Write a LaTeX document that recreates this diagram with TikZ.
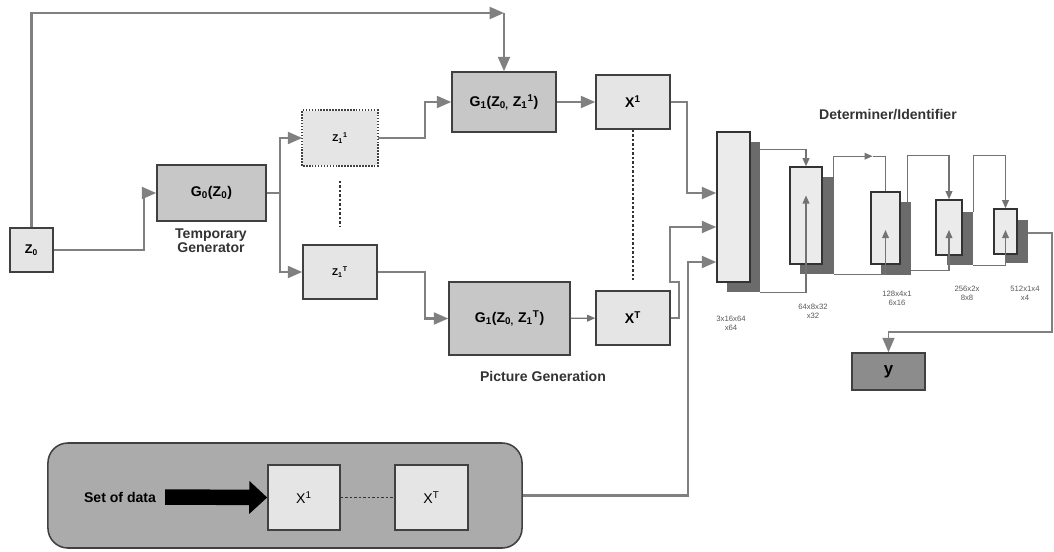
\documentclass[tikz,border=0pt]{standalone}
\usepackage{fontspec}
\setmainfont{Liberation Sans}
\usetikzlibrary{arrows.meta, calc, positioning}

\tikzset{
    lightbox/.style={draw=black!75, line width=1.1pt, fill=black!10, inner sep=0pt, font=\bfseries},
    darkbox/.style={lightbox, fill=black!22},
    layer/.style={draw=black!80, line width=1.1pt, fill=black!8, inner sep=0pt},
    shade/.style={draw=none, fill=black!58, inner sep=0pt},
    link/.style={draw=black!50, line width=1.5pt},
    conn/.style={link, -{Triangle[length=3.6mm,width=3mm]}},
    sconn/.style={draw=black!55, line width=0.8pt, -{Triangle[length=2mm,width=1.7mm]}},
    dots/.style={draw=black!80, line width=1.6pt, dash pattern=on 1.6pt off 1.6pt},
    lbl/.style={font=\bfseries, text=black!80, align=center},
    dims/.style={font=\fontsize{5.5}{6.5}\selectfont, text=black!65, align=center}
}

\begin{document}
\begin{tikzpicture}[x=0.025cm, y=-0.025cm]
    \useasboundingbox (0,0) rectangle (1054,552);

    % generator part
    \node[lightbox, minimum width=1.075cm, minimum height=1.1cm, font=\bfseries\small] (Z0) at (31.5,250) {Z\textsubscript{0}};
    \node[darkbox, minimum width=2.725cm, minimum height=1.4cm] (G0) at (211.5,193) {G\textsubscript{0}(Z\textsubscript{0})};
    \node[lbl] at (211,241) {Temporary\\[-2pt]Generator};

    \node[lightbox, draw=none, minimum width=1.85cm, minimum height=1.35cm, font=\bfseries\scriptsize] (Z1a) at (340,138) {Z\textsubscript{1}\textsuperscript{1}};
    \draw[black!75, line width=1.1pt, densely dotted] (Z1a.south west) rectangle (Z1a.north east);
    \node[lightbox, minimum width=1.85cm, minimum height=1.35cm, font=\bfseries\scriptsize] (Z1b) at (340,272) {Z\textsubscript{1}\textsuperscript{T}};

    \node[darkbox, minimum width=2.6cm, minimum height=1.5cm] (G1a) at (504,102) {G\textsubscript{1}(Z\textsubscript{0,} Z\textsubscript{1}\textsuperscript{1})};
    \node[darkbox, minimum width=3.025cm, minimum height=1.825cm] (G1b) at (509.5,318.5) {G\textsubscript{1}(Z\textsubscript{0,} Z\textsubscript{1}\textsuperscript{T})};
    \node[lbl] at (543,376) {Picture Generation};

    \node[lightbox, minimum width=1.85cm, minimum height=1.35cm] (X1) at (633,102) {X\textsuperscript{1}};
    \node[lightbox, minimum width=1.85cm, minimum height=1.35cm] (XT) at (633,318) {X\textsuperscript{T}};

    % determiner part
    \node[lbl] at (888,115) {Determiner/Identifier};
    \node[shade, minimum width=0.825cm, minimum height=3.75cm] (s1) at (743.5,217) {};
    \node[layer, minimum width=0.825cm, minimum height=3.75cm] (l1) at (733.5,207) {};
    \node[shade, minimum width=0.85cm, minimum height=2.425cm] (s2) at (817,225.5) {};
    \node[layer, minimum width=0.8cm, minimum height=2.425cm] (l2) at (806,215.5) {};
    \node[shade, minimum width=0.75cm, minimum height=1.825cm] (s3) at (896,238.5) {};
    \node[layer, minimum width=0.725cm, minimum height=1.8cm] (l3) at (885.5,228) {};
    \node[shade, minimum width=0.65cm, minimum height=1.325cm] (s4) at (960,238.5) {};
    \node[layer, minimum width=0.65cm, minimum height=1.375cm] (l4) at (949,227.5) {};
    \node[shade, minimum width=0.575cm, minimum height=1.075cm] (s5) at (1016.5,241.5) {};
    \node[layer, minimum width=0.575cm, minimum height=1.125cm] (l5) at (1005.5,231.5) {};

    \node[dims] at (731,323) {3x16x64\\x64};
    \node[dims] at (813,311) {64x8x32\\x32};
    \node[dims] at (897,298) {128x4x1\\6x16};
    \node[dims] at (967,293) {256x2x\\8x8};
    \node[dims] at (1025,293) {512x1x4\\x4};

    \node[lightbox, fill=black!45, minimum width=1.825cm, minimum height=0.925cm, font=\bfseries\large] (ybox) at (888.5,371.5) {y};

    % set of data
    \node[draw=black!75, line width=1.1pt, fill=black!33, rounded corners=0.5cm, minimum width=11.85cm, minimum height=2.625cm] (data) at (285,495.5) {};
    \node[font=\bfseries] (setlbl) at (120,497) {Set of data};
    \node[lightbox, font=\normalfont, minimum width=1.8cm, minimum height=1.625cm] (X1d) at (304,497.5) {X\textsuperscript{1}};
    \node[lightbox, font=\normalfont, minimum width=1.825cm, minimum height=1.625cm] (XTd) at (431.5,497.5) {X\textsuperscript{T}};
    \draw[line width=11pt, -{Triangle[length=0.45cm,width=0.8cm]}, shorten <=3pt] (setlbl.east) -- (X1d.west);
    \draw[dots, line width=1.2pt] (X1d.east) -- (XTd.west);

    \coordinate (topc) at (504,13);
    \coordinate (split) at (280,193);
    \coordinate (rt) at (1052,332);

    % connectors
    \draw[conn] (Z0.north) |- (topc);
    \draw[conn] (topc) -- (G1a.north);
    \draw[conn] (Z0.east) -- ++(90,0) |- (G0.west);
    \draw[link] (G0.east) -- (split);
    \draw[conn] (split) |- (Z1a.west);
    \draw[conn] (split) |- (Z1b.west);
    \draw[conn] (Z1a.east) -- ++(47,0) |- (G1a.west);
    \draw[conn] (Z1b.east) -- ++(47,0) |- (G1b.west);
    \draw[conn] (G1a) -- (X1);
    \draw[sconn] (G1b) -- (XT);

    \draw[dots] ($(Z1a.south)+(0,15)$) -- ($(Z1b.north)+(0,-18)$);
    \draw[dots] (X1.south) -- ($(XT.north)+(0,-10)$);

    \draw[conn] (X1.east) -- ++(16,0) |- ($(l1.west)+(0,-14)$);
    \draw[conn] (XT.east) -- ++(8,0) -- ++(0,-36) -- ++(-9,0) |- ($(l1.west)+(0,20)$);
    \draw[conn] (data.east) -- ++(165,0) |- ($(l1.west)+(0,55)$);

    \draw[sconn] ($(s1.north east)+(0,8)$) -| (l2.north);
    \draw[sconn] (s1.south east) -| ($(l2.center)+(0,-20)$);
    \draw[sconn] ($(s2.north east)+(-1,0)$) |- ($(l3.north)+(-13,-35)$);
    \draw[sconn, -] ($(l3.north)+(-13,-35)$) -| (l3.north);
    \draw[sconn] (s2.south east) -| ($(l3.center)+(0,2)$);
    \draw[sconn] ($(s3.north east)+(-4,0)$) -- ++(0,-46) -| (l4.north);
    \draw[sconn] ($(s3.south east)+(0,-5)$) -| ($(l4.center)+(0,2.5)$);
    \draw[sconn] (s4.north east) -- ++(0,-56) -| (l5.north);
    \draw[sconn] (s4.south east) -| ($(l5.center)+(0,-1.5)$);
    \draw[conn, line width=1.1pt] ($(s5.east)+(0,-8.5)$) -| (rt) -| (ybox.north);

\end{tikzpicture}
\end{document}
